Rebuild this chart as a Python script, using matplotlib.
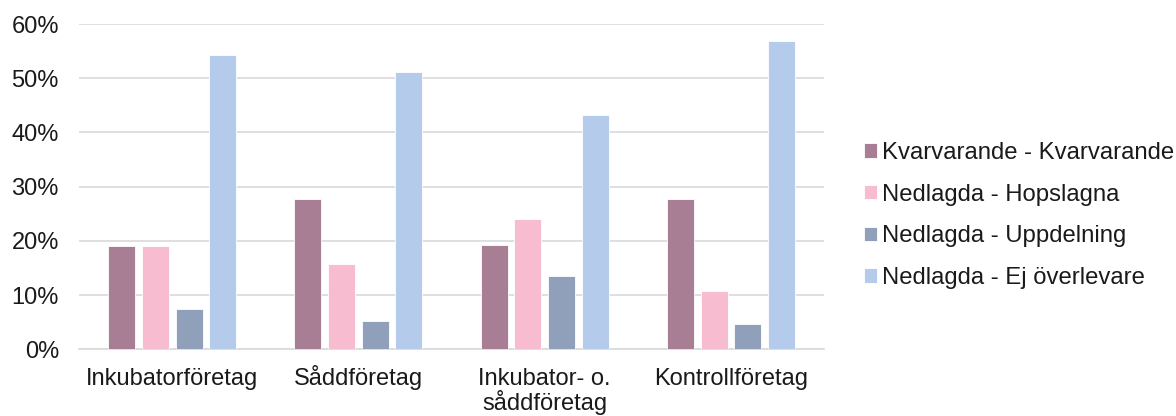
import matplotlib.pyplot as plt
import matplotlib.transforms as mtransforms
import numpy as np

plt.rcParams['font.family'] = ['Liberation Sans', 'DejaVu Sans']

categories = ["Inkubatorföretag", "Såddföretag", "Inkubator- o.\nsåddföretag", "Kontrollföretag"]
series = ["Kvarvarande - Kvarvarande", "Nedlagda - Hopslagna",
          "Nedlagda - Uppdelning", "Nedlagda - Ej överlevare"]
kvarvarande = [19.1, 27.8, 19.2, 27.7]
hopslagna = [19.1, 15.8, 24.0, 10.8]
uppdelning = [7.4, 5.2, 13.5, 4.7]
ej_overlevare = [54.3, 51.1, 43.2, 56.8]
colors = ["#A87E94", "#F7BCD0", "#909FBA", "#B4CBEC"]

values = [kvarvarande, hopslagna, uppdelning, ej_overlevare]

fig = plt.figure(figsize=(11.76, 4.16), dpi=100)
ax = fig.add_axes([0.0672, 0.160, 0.6335, 0.7823])

x = np.arange(len(categories))
slot = 0.181
width = 0.145
for i, (vals, col, name) in enumerate(zip(values, colors, series)):
    ax.bar(x + (i - 1.5) * slot, vals, width, color=col, label=name,
           edgecolor="white", linewidth=0.6, zorder=3)

ax.set_xlim(-0.5, 3.5)
ax.set_ylim(0, 60)
ax.set_yticks(range(0, 61, 10))
ax.set_yticklabels([f"{v}%" for v in range(0, 61, 10)])
ax.tick_params(axis='y', length=0, pad=14.5, labelsize=17, labelcolor="#1a1a1a")

# category labels, line by line so first baselines line up
ax.set_xticks(x)
ax.set_xticklabels([])
ax.tick_params(axis='x', length=0)
for xi, cat in zip(x, categories):
    for j, line in enumerate(cat.split("\n")):
        off = mtransforms.ScaledTranslation(0, -(35.5 + 25.5 * j) / 100, fig.dpi_scale_trans)
        ax.text(xi, 0, line, transform=ax.get_xaxis_transform() + off,
                ha='center', va='baseline', fontsize=17, color="#1a1a1a")

ax.grid(axis='y', color="#D9D9D9", linewidth=1.2, zorder=0)
for s in ["top", "right", "left"]:
    ax.spines[s].set_visible(False)
ax.spines["bottom"].set_color("#D9D9D9")
ax.spines["bottom"].set_linewidth(1.2)

fig.legend(loc="center left", bbox_to_anchor=(0.735, 0.482), frameon=False,
           fontsize=17.2, handlelength=0.55, handleheight=0.55, handletextpad=0.2,
           labelspacing=0.82, borderpad=0, borderaxespad=0, labelcolor="#1a1a1a")

fig.savefig("out.png", dpi=100)
